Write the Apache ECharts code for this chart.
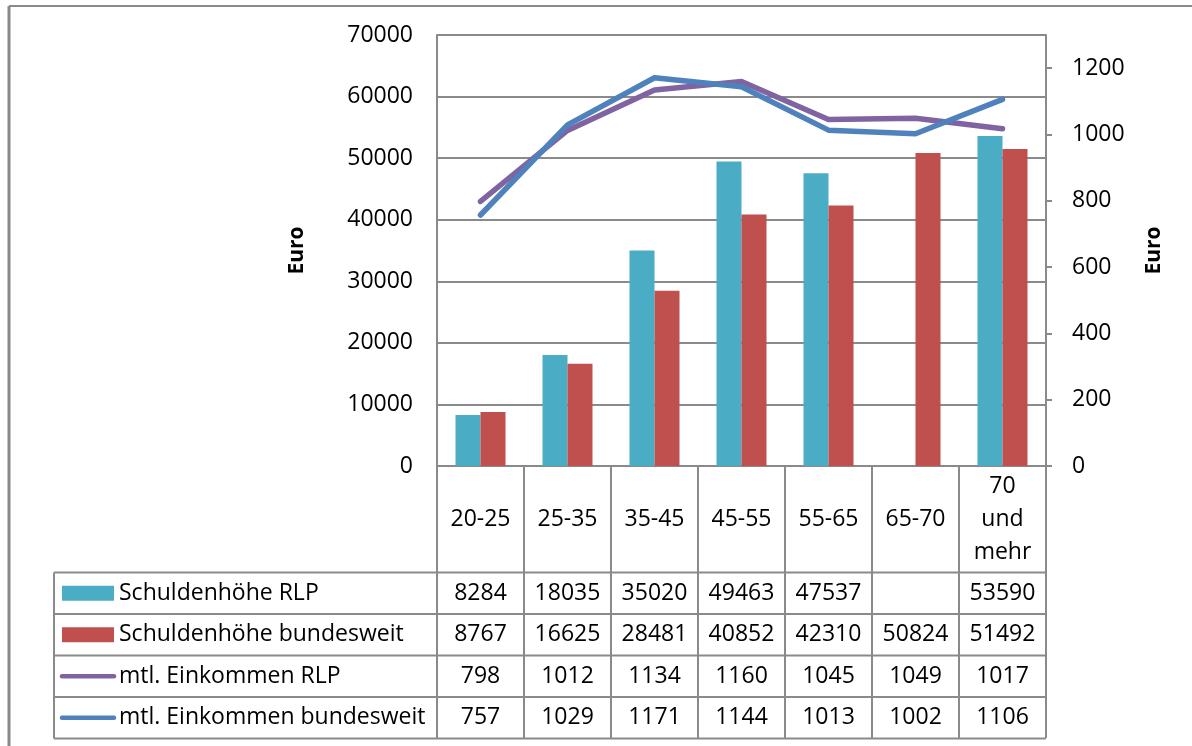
<!DOCTYPE html>
<html>
<head>
<meta charset="utf-8">
<script src="https://cdn.jsdelivr.net/npm/echarts@6/dist/echarts.min.js"></script>
<style>
  html, body { margin: 0; padding: 0; background: #fff; }
  #chart { width: 1192px; height: 746px; }
</style>
</head>
<body>
<div id="chart"></div>
<script>
// Altersgruppen
const categories = ['20-25', '25-35', '35-45', '45-55', '55-65', '65-70', '70\nund\nmehr'];

// Schuldenhöhe (Euro, linke Achse)
const schuldenRLP = [8284, 18035, 35020, 49463, 47537, null, 53590];
const schuldenBund = [8767, 16625, 28481, 40852, 42310, 50824, 51492];

// Monatliches Einkommen (Euro, rechte Achse)
const einkommenRLP = [798, 1012, 1134, 1160, 1045, 1049, 1017];
const einkommenBund = [757, 1029, 1171, 1144, 1013, 1002, 1106];

const seriesNames = ['Schuldenhöhe RLP', 'Schuldenhöhe bundesweit', 'mtl. Einkommen RLP', 'mtl. Einkommen bundesweit'];
const rightTicks = [0, 200, 400, 600, 800, 1000, 1200];

const COLORS = ['#4BACC6', '#C0504D', '#8064A2', '#4F81BD'];
const GRID_GREY = '#8a8a8a';
const FONT = '"Open Sans", "Noto Sans", sans-serif';
const FS = 23;

const chart = echarts.init(document.getElementById('chart'), null, { renderer: 'canvas' });

const GRID = { left: 437, right: 146, top: 35, bottom: 280 };

chart.setOption({
  animation: false,
  backgroundColor: '#fff',
  textStyle: { fontFamily: FONT, color: '#000' },
  grid: GRID,
  xAxis: {
    type: 'category',
    data: categories,
    boundaryGap: true,
    axisLine: { show: true, lineStyle: { color: GRID_GREY, width: 2 } },
    axisTick: { show: true, length: 272, lineStyle: { color: GRID_GREY, width: 2 } },
    axisLabel: {
      color: '#000', fontFamily: FONT, fontSize: FS, lineHeight: 33,
      margin: 53, verticalAlign: 'middle', interval: 0
    },
    splitLine: { show: false }
  },
  yAxis: [
    {
      type: 'value', min: 0, max: 70000, interval: 10000,
      name: 'Euro', nameLocation: 'middle', nameRotate: 90, nameGap: 129,
      nameTextStyle: { fontFamily: FONT, fontSize: 21, fontWeight: 'bold', color: '#000' },
      axisLine: { show: true, lineStyle: { color: GRID_GREY, width: 2 } },
      axisTick: { show: false },
      axisLabel: { color: '#000', fontFamily: FONT, fontSize: FS, margin: 24, formatter: v => String(v) },
      splitLine: { show: true, lineStyle: { color: GRID_GREY, width: 2 } }
    },
    {
      type: 'value', min: 0, max: 1300, interval: 200,
      name: 'Euro', nameLocation: 'middle', nameRotate: 90, nameGap: 98,
      nameTextStyle: { fontFamily: FONT, fontSize: 21, fontWeight: 'bold', color: '#000' },
      axisLine: { show: true, lineStyle: { color: GRID_GREY, width: 2 } },
      axisTick: { show: true, length: 6, customValues: rightTicks, lineStyle: { color: GRID_GREY, width: 2 } },
      axisLabel: {
        color: '#000', fontFamily: FONT, fontSize: FS, margin: 26, customValues: rightTicks,
        formatter: v => (v > 1250 ? '' : String(v))
      },
      splitLine: { show: false }
    }
  ],
  series: [
    { name: seriesNames[0], type: 'bar', data: schuldenRLP, barWidth: 25, barGap: '0%',
      itemStyle: { color: COLORS[0] } },
    { name: seriesNames[1], type: 'bar', data: schuldenBund, barWidth: 25, barGap: '0%',
      itemStyle: { color: COLORS[1] } },
    { name: seriesNames[2], type: 'line', yAxisIndex: 1, data: einkommenRLP, symbol: 'none',
      lineStyle: { color: COLORS[2], width: 5.5, cap: 'round', join: 'round' } },
    { name: seriesNames[3], type: 'line', yAxisIndex: 1, data: einkommenBund, symbol: 'none',
      lineStyle: { color: COLORS[3], width: 5.5, cap: 'round', join: 'round' } }
  ]
});

// Datentabelle unter dem Diagramm
const tableRows = [schuldenRLP, schuldenBund, einkommenRLP, einkommenBund];
const ROW_TOP = 572.5;
const ROW_H = 41.5;
const TABLE_LEFT = 54;
const TABLE_RIGHT = 1192 - GRID.right;
const graphics = [];

// Rahmen des Diagrammbereichs (oben und links)
graphics.push({ type: 'line', shape: { x1: 9, y1: 6, x2: 1192, y2: 6 }, style: { stroke: GRID_GREY, lineWidth: 2 } });
graphics.push({ type: 'line', shape: { x1: 9, y1: 6, x2: 9, y2: 746 }, style: { stroke: GRID_GREY, lineWidth: 3 } });

// horizontale Tabellenlinien
for (let r = 0; r <= tableRows.length; r++) {
  const y = ROW_TOP + r * ROW_H;
  graphics.push({ type: 'line', shape: { x1: TABLE_LEFT, y1: y, x2: TABLE_RIGHT, y2: y }, style: { stroke: GRID_GREY, lineWidth: 2 } });
}
// linke Kante der Legendenspalte
graphics.push({ type: 'line', shape: { x1: TABLE_LEFT, y1: ROW_TOP, x2: TABLE_LEFT, y2: ROW_TOP + tableRows.length * ROW_H }, style: { stroke: GRID_GREY, lineWidth: 2 } });

tableRows.forEach((row, r) => {
  const cy = ROW_TOP + r * ROW_H + ROW_H / 2;
  // Legendensymbol
  if (r < 2) {
    graphics.push({ type: 'rect', shape: { x: 62, y: cy - 7.5, width: 52, height: 15 }, style: { fill: COLORS[r] } });
  } else {
    graphics.push({ type: 'line', shape: { x1: 62, y1: cy, x2: 114, y2: cy }, style: { stroke: COLORS[r], lineWidth: 4.5, lineCap: 'round' } });
  }
  graphics.push({
    type: 'text', x: 119, y: cy,
    style: { text: seriesNames[r], fontFamily: FONT, fontSize: FS, fill: '#000', align: 'left', verticalAlign: 'middle' }
  });
  // Werte je Altersgruppe
  row.forEach((v, i) => {
    if (v === null) return;
    const x = chart.convertToPixel({ xAxisIndex: 0 }, i);
    graphics.push({
      type: 'text', x: x, y: cy,
      style: { text: String(v), fontFamily: FONT, fontSize: FS, fill: '#000', align: 'center', verticalAlign: 'middle' }
    });
  });
});

chart.setOption({ graphic: graphics });
</script>
</body>
</html>
